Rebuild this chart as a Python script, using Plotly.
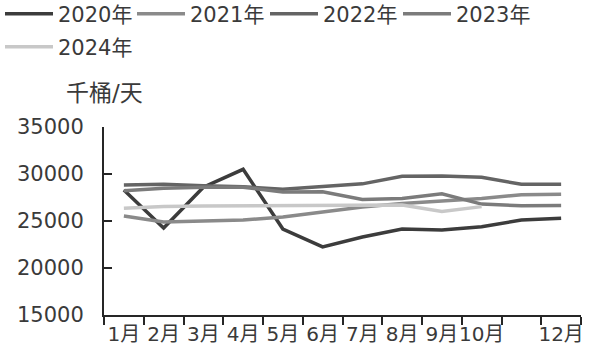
import plotly.graph_objects as go

months = ["1月", "2月", "3月", "4月", "5月", "6月", "7月", "8月", "9月", "10月", "11月", "12月"]
tick_labels = ["1月", "2月", "3月", "4月", "5月", "6月", "7月", "8月", "9月", "10月", "", "12月"]

y2020 = [28300, 24250, 28600, 30500, 24150, 22250, 23300, 24150, 24050, 24400, 25100, 25300]
y2021 = [25530, 24900, 25000, 25100, 25430, 26000, 26500, 26850, 27100, 27400, 27800, 27850]
y2022 = [28830, 28900, 28760, 28650, 28380, 28650, 28950, 29750, 29780, 29650, 28900, 28920]
y2023 = [28230, 28480, 28590, 28600, 28080, 28120, 27300, 27400, 27900, 26800, 26630, 26650]
y2024 = [26350, 26530, 26600, 26630, 26630, 26680, 26700, 26700, 26000, 26530]

series = [
    ("2020年", y2020, "#3c3c3c"),
    ("2021年", y2021, "#8a8a8a"),
    ("2022年", y2022, "#646464"),
    ("2023年", y2023, "#7b7b7b"),
    ("2024年", y2024, "#c8c8c8"),
]
# legend slot (left px, centre y px) per series
legend_pos = [(0, 14), (132, 14), (265, 14), (398, 14), (0, 47)]

FONT = "DejaVu Sans, Noto Sans CJK SC, sans-serif"
TXT = "#3a3a3a"
W, H = 607, 352

fig = go.Figure()
layout_legends = {}
for i, (name, vals, col) in enumerate(series):
    key = "legend" if i == 0 else f"legend{i + 1}"
    fig.add_trace(go.Scatter(
        x=months[:len(vals)], y=vals, name=name, mode="lines",
        line=dict(color=col, width=3.5), legend=key,
    ))
    lx, ly = legend_pos[i]
    layout_legends[key] = dict(
        orientation="h", xref="container", yref="container",
        x=lx / W, y=1 - ly / H, xanchor="left", yanchor="middle",
        font=dict(family=FONT, size=21, color=TXT),
        bgcolor="rgba(0,0,0,0)", itemwidth=48,
    )

fig.update_layout(
    width=W, height=H,
    margin=dict(l=104, r=26, t=127, b=37, autoexpand=False),
    paper_bgcolor="white", plot_bgcolor="white",
    font=dict(family=FONT, size=20, color=TXT),
    showlegend=True,
    xaxis=dict(
        type="category", categoryorder="array", categoryarray=months,
        tickmode="array", tickvals=months, ticktext=tick_labels,
        tickson="boundaries", ticks="outside", ticklen=8, tickwidth=2,
        tickangle=0, automargin=False,
        tickcolor="#262626", showline=True, linecolor="#262626", linewidth=2,
        showgrid=False, zeroline=False, range=[-0.5, 11.5],
        tickfont=dict(family=FONT, size=20, color=TXT),
    ),
    yaxis=dict(
        range=[15000, 35000], tickmode="array",
        tickvals=[15000, 20000, 25000, 30000, 35000],
        ticktext=["15000", "20000", "25000", "30000", "35000"],
        ticks="inside", ticklen=8, tickwidth=2, tickcolor="#262626",
        showline=True, linecolor="#262626", linewidth=2, automargin=False,
        showgrid=False, zeroline=False, ticklabelstandoff=14,
        tickfont=dict(family=FONT, size=21, color=TXT),
    ),
    annotations=[dict(
        text="千桶/天", xref="paper", yref="paper", x=0.0, y=(315 - 93) / 188,
        xanchor="center", yanchor="middle", showarrow=False,
        font=dict(family=FONT, size=23, color=TXT),
    )],
    **layout_legends,
)

fig.write_html("out.html")
